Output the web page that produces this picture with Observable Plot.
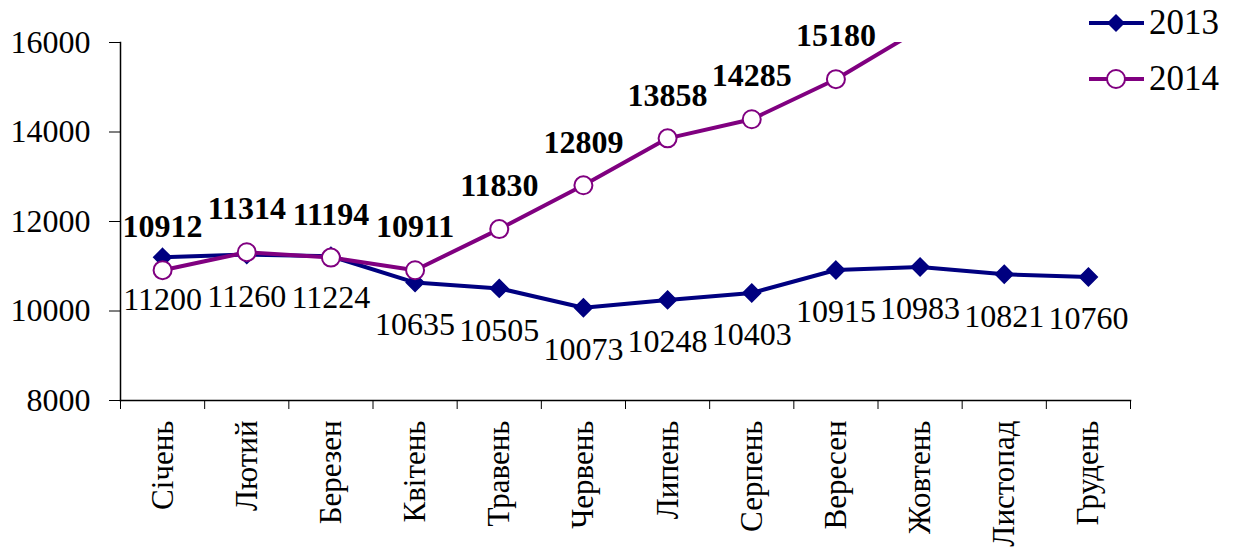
<!DOCTYPE html>
<html>
<head>
<meta charset="utf-8">
<script src="https://cdn.jsdelivr.net/npm/d3@7"></script>
<script src="https://cdn.jsdelivr.net/npm/@observablehq/plot@0.6"></script>
<style>
  html, body { margin: 0; padding: 0; background: #fff; }
  #wrap { position: relative; width: 1238px; height: 556px; overflow: hidden; font-family: "Liberation Serif", "Times New Roman", serif; }
  #legend { position: absolute; left: 1088px; top: -5px; font-size: 35px; color: #000; }
  #legend .row { display: flex; align-items: center; height: 56px; }
  #legend svg { margin-right: 4px; }
</style>
</head>
<body>
<div id="wrap">
  <div id="chart"></div>
  <div id="legend"></div>
</div>
<script>
const months = ["Січень", "Лютий", "Березен", "Квітень", "Травень", "Червень", "Липень", "Серпень", "Вересен", "Жовтень", "Листопад", "Грудень"];
const values2013 = [11200, 11260, 11224, 10635, 10505, 10073, 10248, 10403, 10915, 10983, 10821, 10760];
const values2014 = [10912, 11314, 11194, 10911, 11830, 12809, 13858, 14285, 15180, 16300];
const yTicks = [8000, 10000, 12000, 14000, 16000];
const series = ["2013", "2014"];
const colors = {"2013": "#000080", "2014": "#800080"};

const yMax = d3.max(yTicks);
const data2013 = values2013.map((v, i) => ({i, v}));
const data2014 = values2014.map((v, i) => ({i, v}));
const visible2014 = data2014.filter(d => d.v <= yMax);

const chart = Plot.plot({
  width: 1238,
  height: 556,
  marginLeft: 120,
  marginRight: 108,
  marginTop: 42,
  marginBottom: 156,
  x: {type: "linear", domain: [-0.5, months.length - 0.5], label: null},
  y: {domain: [d3.min(yTicks), yMax], label: null},
  style: {fontFamily: "Liberation Serif, Times New Roman, serif", color: "#000", background: "transparent", overflow: "visible"},
  marks: [
    Plot.axisY({ticks: yTicks, tickSize: 11, tickPadding: 19, fontSize: 32, tickFormat: d => String(d), stroke: "#000", label: null}),
    Plot.axisX({ticks: d3.range(-0.5, months.length, 1), tickSize: 9, tickFormat: () => "", stroke: "#000", label: null}),
    Plot.axisX({ticks: d3.range(months.length), tickSize: 0, tickPadding: 20, tickRotate: -90, fontSize: 31, tickFormat: i => months[i], label: null}),
    Plot.frame({anchor: "left", stroke: "#000", strokeWidth: 1.5}),
    Plot.frame({anchor: "bottom", stroke: "#000", strokeWidth: 1.5}),
    Plot.line(data2013, {x: "i", y: "v", stroke: colors["2013"], strokeWidth: 4}),
    Plot.dot(data2013, {x: "i", y: "v", symbol: "diamond2", r: 8, fill: colors["2013"], stroke: colors["2013"]}),
    Plot.text(data2013, {x: "i", y: "v", text: d => String(d.v), dy: 42, fontSize: 32, fill: "#000"}),
    Plot.line(data2014, {x: "i", y: "v", stroke: colors["2014"], strokeWidth: 4, clip: true}),
    Plot.dot(visible2014, {x: "i", y: "v", r: 9, fill: "#fff", stroke: colors["2014"], strokeWidth: 2}),
    Plot.text(visible2014, {x: "i", y: "v", text: d => String(d.v), dy: -43, fontSize: 32, fontWeight: "bold", fill: "#000"})
  ]
});
document.getElementById("chart").appendChild(chart);

// Legend
const legend = document.getElementById("legend");
series.forEach(s => {
  const row = document.createElement("div");
  row.className = "row";
  const c = colors[s];
  const marker = s === "2013"
    ? `<path d="M28,11 L37,20 L28,29 L19,20 Z" fill="${c}"/>`
    : `<circle cx="28" cy="20" r="9" fill="#fff" stroke="${c}" stroke-width="2"/>`;
  row.innerHTML = `<svg width="57" height="40"><line x1="1" y1="20" x2="56" y2="20" stroke="${c}" stroke-width="4"/>${marker}</svg><span>${s}</span>`;
  legend.appendChild(row);
});
</script>
</body>
</html>
